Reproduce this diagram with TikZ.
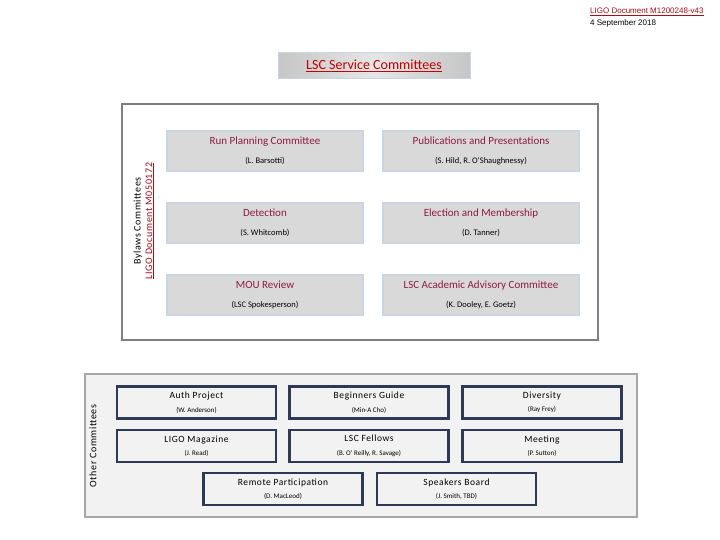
\documentclass[tikz,border=0pt]{standalone}
\usepackage{fontspec}
\setmainfont{Carlito}
\newfontfamily\arialfont{Liberation Sans}
\newfontfamily\widefont[LetterSpace=6]{Carlito}
\definecolor{svcfill}{HTML}{D9D9D9}
\definecolor{svcedge}{HTML}{C9D5E2}
\definecolor{svcred}{HTML}{8E1B40}
\definecolor{titlered}{HTML}{C00000}
\definecolor{docred}{HTML}{A50F15}
\definecolor{otheredge}{HTML}{2C3A55}
\definecolor{otherfill}{HTML}{F2F2F2}
\definecolor{frameedge}{HTML}{7F7F7F}
\definecolor{lowedge}{HTML}{A6A6A6}

\begin{document}
\begin{tikzpicture}[x=1pt,y=-1pt,
    svcbox/.style={draw=svcedge,line width=1.5pt,fill=svcfill,minimum width=196pt,
      minimum height=40pt,align=center,text=svcred,inner sep=0pt},
    otherbox/.style={draw=otheredge,line width=2.2pt,fill=otherfill,minimum width=159pt,
      minimum height=32pt,align=center,inner sep=0pt},
    sidetext/.style={rotate=90,inner sep=0pt,font=\widefont\fontsize{10}{12}\selectfont}]
  \useasboundingbox (0,0) rectangle (720,540);

  % header
  \node[anchor=west,inner sep=0pt,text=docred,font=\arialfont\fontsize{8}{10}\selectfont]
    (docno) at (590,12) {\underline{LIGO Document M1200248-v43}};
  \node[anchor=west,inner sep=0pt,font=\arialfont\fontsize{8}{10}\selectfont]
    (docdate) at (590,23) {4 September 2018};

  \node[draw=svcedge,line width=1pt,left color=gray!45,right color=gray!45,middle color=gray!20,
    minimum width=192pt,minimum height=26pt,text=titlered,font=\fontsize{14}{16}\selectfont]
    (service) at (374,66) {\underline{LSC Service Committees}};

  % service committees
  \draw[frameedge,line width=2pt] (122,104) rectangle (598,340);
  \node[sidetext] (bylaws) at (138,221) {Bylaws Committees};
  \node[sidetext,text=docred] (bylawsdoc) at (150,221) {\underline{LIGO Document M050172}};

  \foreach \n/\x/\y/\t/\p in {run/265/151/Run Planning Committee/(L. Barsotti),
      pub/481/151/Publications and Presentations/{(S. Hild, R. O'Shaughnessy)},
      det/265/223/Detection/(S. Whitcomb),
      elec/481/223/Election and Membership/(D. Tanner),
      mou/265/295/MOU Review/(LSC Spokesperson),
      acad/481/295/LSC Academic Advisory Committee/{(K. Dooley, E. Goetz)}} {
    \node[svcbox] (\n) at (\x,\y)
      {\fontsize{11}{13}\selectfont \t\\[7pt]\color{black}\fontsize{8.5}{10}\selectfont \p};
  }

  % other committees
  \draw[lowedge,fill=otherfill,line width=2.5pt] (85,374) rectangle (637,517);
  \node[sidetext] (other) at (93,446) {Other Committees};

  \foreach \n/\x/\y/\t/\p in {auth/196.5/402.5/Auth Project/(W. Anderson),
      guide/369/402.5/Beginners Guide/(Min-A Cho),
      div/542/402.5/Diversity/(Ray Frey),
      mag/196.5/446/LIGO Magazine/(J. Read),
      fell/369/446/LSC Fellows/{(B. O’ Reilly, R. Savage)},
      meet/542/446/Meeting/(P. Sutton),
      remote/283/489/Remote Participation/(D. MacLeod),
      speak/456.5/489/Speakers Board/{(J. Smith, TBD)}} {
    \node[otherbox] (\n) at (\x,\y)
      {\widefont\fontsize{9.5}{10}\selectfont \t\\[1.5pt]\fontsize{7}{8}\selectfont \p};
  }
\end{tikzpicture}
\end{document}
